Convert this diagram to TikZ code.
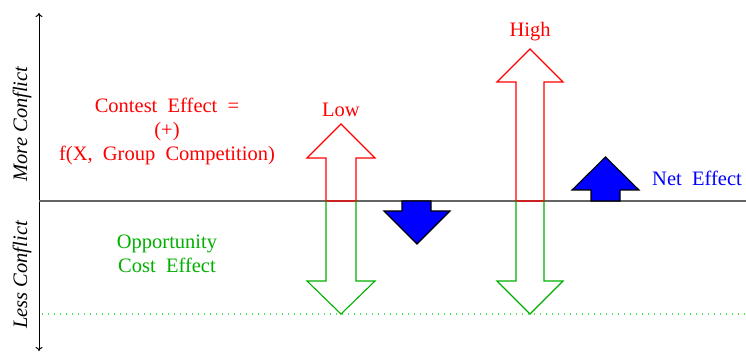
\documentclass[tikz,border=0pt]{standalone}
\usepackage{fontspec}
\setmainfont{Liberation Serif}
\usetikzlibrary{arrows.meta}
\definecolor{cred}{RGB}{255,0,0}
\definecolor{cgreen}{RGB}{0,175,0}
\definecolor{cdot}{RGB}{80,235,80}
\definecolor{cblue}{RGB}{0,0,255}
\definecolor{cline}{RGB}{100,100,100}
\begin{document}
\begin{tikzpicture}[x=1pt,y=-1pt,
  lbl/.style={font=\fontsize{20.5}{24}\selectfont, inner sep=0pt, align=center},
  redarrow/.style={draw=cred, line width=1.1pt, line join=miter},
  greenarrow/.style={draw=cgreen, line width=1.1pt, line join=miter},
  netarrow/.style={draw=black, fill=cblue, line width=1.1pt, line join=miter}]
\useasboundingbox (0,0) rectangle (746,352);
% axes
\draw[line width=1pt, {To[length=4pt,width=7pt]}-{To[length=4pt,width=7pt]}] (39,13) -- (39,351);
\draw[cline, line width=1.4pt] (39,201) -- (746,201);
\draw[cdot, line width=1.1pt, dash pattern=on 1pt off 5pt] (42,314) -- (746,314);
% axis labels
\node[lbl, rotate=90, font=\fontsize{20.5}{24}\selectfont\itshape] (more) at (22,124) {More Conflict};
\node[lbl, rotate=90, font=\fontsize{20.5}{24}\selectfont\itshape] (less) at (22,275) {Less Conflict};
% side texts
\node[lbl, text=cred] (contest) at (167,131) {Contest\ \ Effect\ \ =\\(+)\\f(X,\ \ Group\ \ Competition)};
\node[lbl, text=cgreen] (opp) at (167,254) {Opportunity\\Cost\ \ Effect};
% Low arrows
\draw[redarrow] (326,201) -- (326,158) -- (307,158) -- (341,124) -- (375,158) -- (356,158) -- (356,201) -- cycle;
\draw[greenarrow] (326,201) -- (326,281) -- (307,281) -- (341,314) -- (375,281) -- (356,281) -- (356,201);
\node[lbl, text=cred] (low) at (341,110) {Low};
% High arrows
\draw[redarrow] (516,201) -- (516,82) -- (497,82) -- (530,49) -- (563,82) -- (544,82) -- (544,201) -- cycle;
\draw[greenarrow] (516,201) -- (516,281) -- (497,281) -- (530,314) -- (563,281) -- (544,281) -- (544,201);
\node[lbl, text=cred] (high) at (530,32) {High};
% net effect arrows
\draw[netarrow] (402,201) -- (402,211) -- (384,211) -- (417,244) -- (450,211) -- (431,211) -- (431,201) -- cycle;
\draw[netarrow] (591,201) -- (591,190) -- (572,190) -- (605.5,157) -- (639,190) -- (620,190) -- (620,201) -- cycle;
\node[lbl, text=cblue] (net) at (697,178) {Net\ \ Effect};
\end{tikzpicture}
\end{document}
